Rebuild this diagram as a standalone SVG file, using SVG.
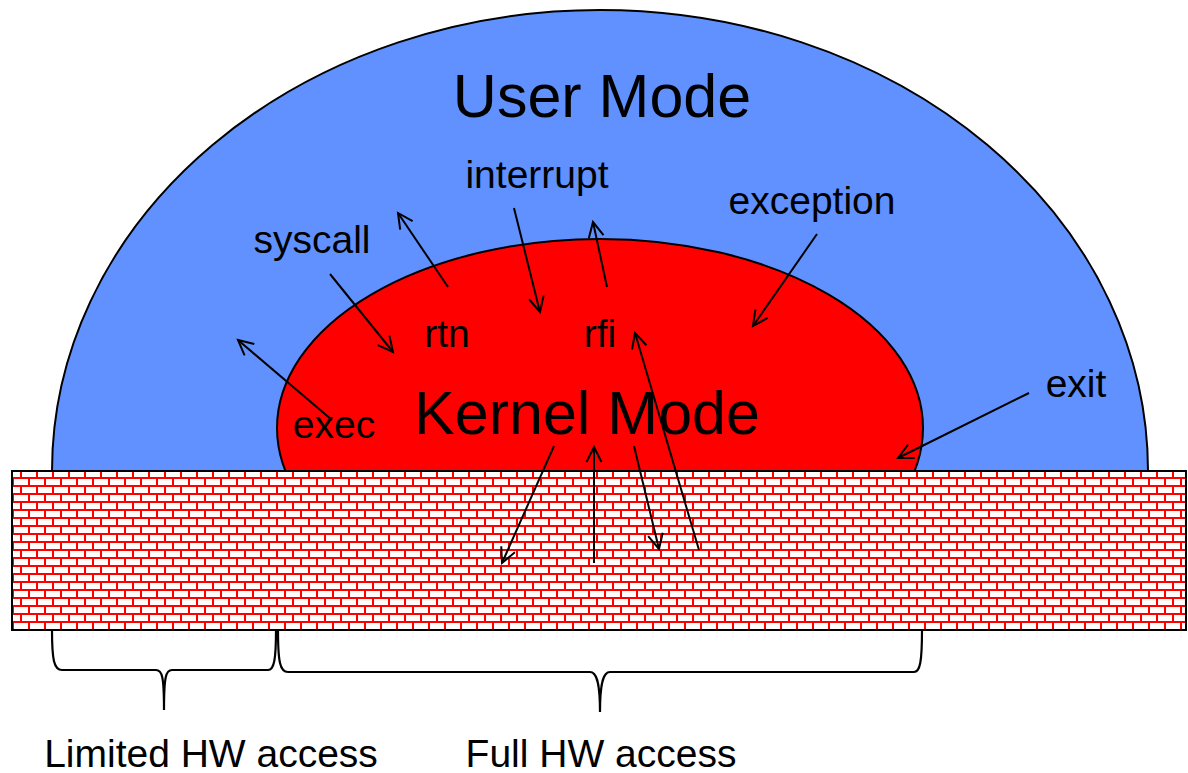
<svg xmlns="http://www.w3.org/2000/svg" width="1188" height="773" viewBox="0 0 1188 773">
  <style>
    text { font-family: "Liberation Sans", Arial, sans-serif; fill: #000; text-anchor: middle; }
    .big { font-size: 61px; }
    .lbl { font-size: 39px; }
    .conn { stroke: #000; stroke-width: 2; fill: none; marker-end: url(#arr); }
    .outline { stroke: #000; stroke-width: 2; }
    .brace { stroke: #000; stroke-width: 2.2; fill: none; }
  </style>
  <defs>
    <marker id="arr" markerUnits="userSpaceOnUse" markerWidth="20" markerHeight="20" refX="0" refY="0" viewBox="-16 -10 20 20" orient="auto" overflow="visible">
      <path d="M-15 -7.5 L0 0 L-15 7.5" fill="none" stroke="#000" stroke-width="2"/>
    </marker>
    <pattern id="brick" patternUnits="userSpaceOnUse" x="4" y="469" width="16" height="16">
      <rect width="16" height="16" fill="#fff"/>
      <path d="M0 1 H16 M0 9 H16 M1 1 V9 M9 9 V16 M9 0 V1" stroke="#ff0000" stroke-width="2" fill="none" shape-rendering="crispEdges"/>
    </pattern>
  </defs>

  <g id="user-mode">
    <path class="outline" d="M52 471 A548 461 0 0 1 1148 471 Z" fill="#6191ff"/>
    <text class="big" x="602" y="117">User Mode</text>
  </g>

  <g id="kernel-mode">
    <ellipse class="outline" cx="600" cy="428" rx="323" ry="189" fill="#ff0000"/>
    <text class="big" x="587" y="434">Kernel Mode</text>
  </g>

  <g id="labels">
    <text class="lbl" x="537" y="188">interrupt</text>
    <text class="lbl" x="312" y="253">syscall</text>
    <text class="lbl" x="812" y="214">exception</text>
    <text class="lbl" x="447" y="347">rtn</text>
    <text class="lbl" x="600" y="347">rfi</text>
    <text class="lbl" x="334" y="438">exec</text>
    <text class="lbl" x="1076" y="397">exit</text>
  </g>

  <g id="hardware">
    <rect x="12" y="471" width="1174" height="159" fill="url(#brick)" stroke="#000" stroke-width="2"/>
  </g>

  <g id="connectors">
    <line class="conn" x1="330" y1="274" x2="393" y2="352"/>
    <line class="conn" x1="448" y1="287" x2="398" y2="213"/>
    <line class="conn" x1="332" y1="420" x2="238" y2="340"/>
    <line class="conn" x1="514" y1="208" x2="540" y2="312"/>
    <line class="conn" x1="607" y1="287" x2="593" y2="222"/>
    <line class="conn" x1="699" y1="550" x2="635" y2="333"/>
    <line class="conn" x1="817" y1="234" x2="753" y2="326"/>
    <line class="conn" x1="1029" y1="393" x2="898" y2="458"/>
    <line class="conn" x1="554" y1="446" x2="502" y2="563"/>
    <line class="conn" x1="594" y1="563" x2="594" y2="447"/>
    <line class="conn" x1="634" y1="446" x2="659" y2="549"/>
  </g>

  <g id="limited-hw">
    <path class="brace" d="M52 630 C52 660 54 670 62 670 L156 670 C162 670 164 676 164 710 C164 676 166 670 172 670 L268 670 C274 670 276 660 276 630"/>
    <text class="lbl" x="211" y="767">Limited HW access</text>
  </g>

  <g id="full-hw">
    <path class="brace" d="M278 630 C278 662 280 672 288 672 L590 672 C596 672 600 680 600 712 C600 680 604 672 610 672 L914 672 C920 672 922 662 922 630"/>
    <text class="lbl" x="601" y="767">Full HW access</text>
  </g>
</svg>
